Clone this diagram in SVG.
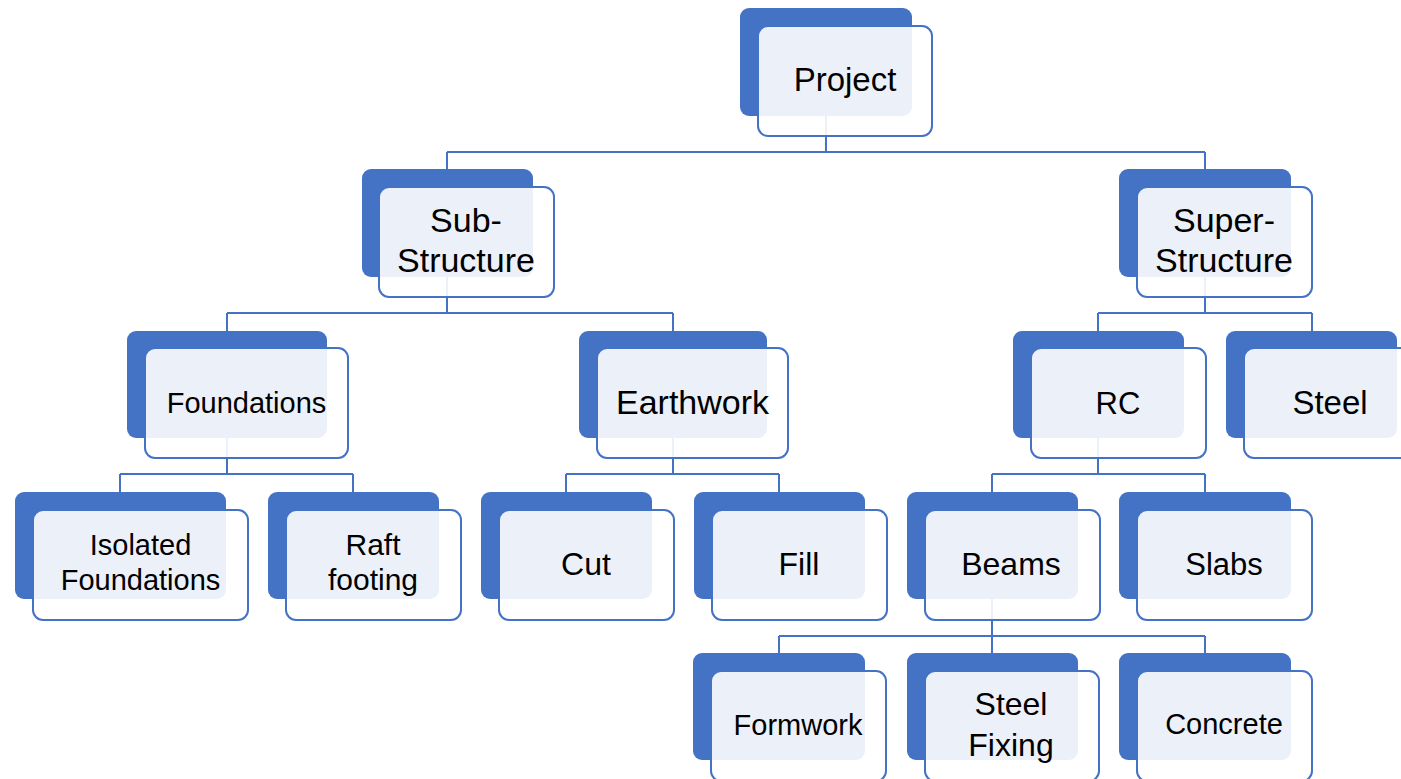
<svg xmlns="http://www.w3.org/2000/svg" width="1401" height="779" viewBox="0 0 1401 779">
<style>
.bk{fill:#4472C4;}
.fr{fill:#FFFFFF;fill-opacity:0.9;stroke:#4472C4;stroke-width:2;}
.cn{fill:none;stroke:#4472C4;stroke-width:2;}
.t{font-family:"Liberation Sans",Arial,sans-serif;fill:#000000;text-anchor:middle;}
</style>
<rect width="1401" height="779" fill="#FFFFFF"/>
<g id="connectors">
<path class="cn" d="M826,115V152M447,152H1205M447,152V169M1205,152V169"/>
<path class="cn" d="M447,276V313M227,313H673M227,313V331M673,313V331"/>
<path class="cn" d="M1205,276V313M1098,313H1312M1098,313V331M1312,313V331"/>
<path class="cn" d="M227,438V474M120,474H353M120,474V492M353,474V492"/>
<path class="cn" d="M673,438V474M566,474H779M566,474V492M779,474V492"/>
<path class="cn" d="M1098,438V474M992,474H1205M992,474V492M1205,474V492"/>
<path class="cn" d="M992,599V636M779,636H1205M779,636V653M992,636V653M1205,636V653"/>
</g>
<g id="project">
<rect class="bk" x="740" y="8" width="172" height="108" rx="9"/>
<rect class="fr" x="758" y="26" width="174" height="110" rx="10"/>
<text class="t" x="845" y="91" font-size="33">Project</text>
</g>
<g id="sub-structure">
<rect class="bk" x="362" y="169" width="171" height="108" rx="9"/>
<rect class="fr" x="379" y="187" width="175" height="110" rx="10"/>
<text class="t" x="466" y="232" font-size="34">Sub-</text>
<text class="t" x="466" y="272" font-size="34">Structure</text>
</g>
<g id="super-structure">
<rect class="bk" x="1119" y="169" width="172" height="108" rx="9"/>
<rect class="fr" x="1137" y="187" width="175" height="110" rx="10"/>
<text class="t" x="1224" y="232" font-size="34">Super-</text>
<text class="t" x="1224" y="272" font-size="34">Structure</text>
</g>
<g id="foundations">
<rect class="bk" x="127" y="331" width="200" height="107" rx="9"/>
<rect class="fr" x="145" y="348" width="203" height="110" rx="10"/>
<text class="t" x="246.5" y="413" font-size="29">Foundations</text>
</g>
<g id="earthwork">
<rect class="bk" x="579" y="331" width="188" height="107" rx="9"/>
<rect class="fr" x="597" y="348" width="191" height="110" rx="10"/>
<text class="t" x="692.5" y="414" font-size="34">Earthwork</text>
</g>
<g id="rc">
<rect class="bk" x="1013" y="331" width="171" height="107" rx="9"/>
<rect class="fr" x="1031" y="348" width="175" height="110" rx="10"/>
<text class="t" x="1118" y="414" font-size="31">RC</text>
</g>
<g id="steel">
<rect class="bk" x="1226" y="331" width="171" height="107" rx="9"/>
<rect class="fr" x="1244" y="348" width="175" height="110" rx="10"/>
<text class="t" x="1330" y="414" font-size="33">Steel</text>
</g>
<g id="isolated-foundations">
<rect class="bk" x="15" y="492" width="211" height="107" rx="9"/>
<rect class="fr" x="33" y="510" width="215" height="110" rx="10"/>
<text class="t" x="140.5" y="555" font-size="29">Isolated</text>
<text class="t" x="140.5" y="590" font-size="29">Foundations</text>
</g>
<g id="raft-footing">
<rect class="bk" x="268" y="492" width="171" height="107" rx="9"/>
<rect class="fr" x="286" y="510" width="175" height="110" rx="10"/>
<text class="t" x="373" y="555" font-size="30">Raft</text>
<text class="t" x="373" y="590" font-size="30">footing</text>
</g>
<g id="cut">
<rect class="bk" x="481" y="492" width="171" height="107" rx="9"/>
<rect class="fr" x="499" y="510" width="175" height="110" rx="10"/>
<text class="t" x="586" y="575" font-size="32">Cut</text>
</g>
<g id="fill">
<rect class="bk" x="694" y="492" width="171" height="107" rx="9"/>
<rect class="fr" x="712" y="510" width="175" height="110" rx="10"/>
<text class="t" x="799" y="575" font-size="32">Fill</text>
</g>
<g id="beams">
<rect class="bk" x="907" y="492" width="171" height="107" rx="9"/>
<rect class="fr" x="925" y="510" width="175" height="110" rx="10"/>
<text class="t" x="1011" y="575" font-size="32">Beams</text>
</g>
<g id="slabs">
<rect class="bk" x="1119" y="492" width="172" height="107" rx="9"/>
<rect class="fr" x="1137" y="510" width="175" height="110" rx="10"/>
<text class="t" x="1224" y="575" font-size="31">Slabs</text>
</g>
<g id="formwork">
<rect class="bk" x="693" y="653" width="172" height="107" rx="9"/>
<rect class="fr" x="711" y="671" width="175" height="110" rx="10"/>
<text class="t" x="798" y="735" font-size="29">Formwork</text>
</g>
<g id="steel-fixing">
<rect class="bk" x="907" y="653" width="171" height="107" rx="9"/>
<rect class="fr" x="925" y="671" width="174" height="110" rx="10"/>
<text class="t" x="1011" y="715" font-size="32">Steel</text>
<text class="t" x="1011" y="756" font-size="32">Fixing</text>
</g>
<g id="concrete">
<rect class="bk" x="1119" y="653" width="172" height="107" rx="9"/>
<rect class="fr" x="1137" y="671" width="175" height="110" rx="10"/>
<text class="t" x="1224" y="734" font-size="29">Concrete</text>
</g>
</svg>
